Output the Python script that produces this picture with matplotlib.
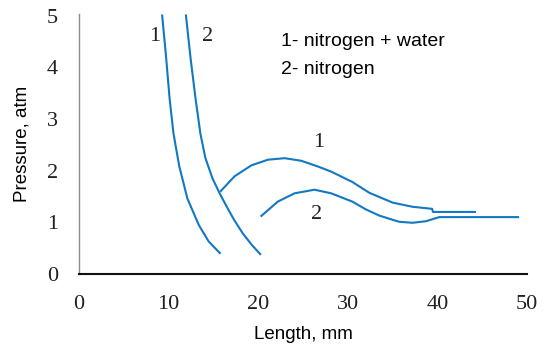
import matplotlib.pyplot as plt

# curve 1 (nitrogen + water), drop branch and hump branch
drop1_x = [9.28, 9.74, 10.11, 10.55, 11.19, 12.1, 13.37, 14.47, 15.8]
drop1_y = [5.02, 4.17, 3.41, 2.72, 2.09, 1.46, 0.95, 0.63, 0.39]
hump1_x = [15.75, 17.37, 19.23, 21.08, 22.94, 24.8, 26.65, 28.14, 30.5, 32.4,
           35.0, 37.2, 39.4, 39.5, 44.3]
hump1_y = [1.59, 1.89, 2.10, 2.21, 2.24, 2.19, 2.08, 1.98, 1.78, 1.57,
           1.38, 1.30, 1.26, 1.20, 1.20]

# curve 2 (nitrogen)
drop2_x = [11.93, 12.46, 13.0, 13.55, 14.1, 14.9, 15.7, 16.5, 17.3, 18.3, 19.3, 20.3]
drop2_y = [5.02, 4.17, 3.41, 2.72, 2.25, 1.85, 1.56, 1.30, 1.05, 0.78, 0.56, 0.37]
hump2_x = [20.27, 22.19, 24.05, 26.28, 28.14, 30.5, 32.0, 33.5, 35.7, 37.2,
           38.7, 40.2, 49.1]
hump2_y = [1.11, 1.40, 1.56, 1.63, 1.56, 1.40, 1.25, 1.13, 1.01, 0.99,
           1.02, 1.10, 1.10]

x_ticks = [0, 10, 20, 30, 40, 50]
y_ticks = [0, 1, 2, 3, 4, 5]

BLUE = "#1178c2"
INK = "#231f20"
SERIF = "Liberation Serif"
SANS = "Liberation Sans"

fig = plt.figure(figsize=(5.44, 3.49), dpi=100)
ax = fig.add_axes([0.145, 0.215, 0.824, 0.745])

for xs, ys in [(drop1_x, drop1_y), (hump1_x, hump1_y), (drop2_x, drop2_y), (hump2_x, hump2_y)]:
    ax.plot(xs, ys, color=BLUE, lw=1.5, solid_capstyle="butt", solid_joinstyle="round")

ax.set_xlim(0, 50)
ax.set_ylim(0, 5.03)
ax.set_xticks(x_ticks)
ax.set_yticks(y_ticks)
ax.set_xticklabels([str(v) for v in x_ticks], family=SERIF, fontsize=16, color=INK)
ax.set_yticklabels([str(v) for v in y_ticks], family=SERIF, fontsize=16, color=INK)
ax.tick_params(axis="y", length=0, pad=15)
ax.tick_params(axis="x", length=0, pad=15)

for s in ["top", "right"]:
    ax.spines[s].set_visible(False)
ax.spines["left"].set_color("#8c8c8c")
ax.spines["left"].set_linewidth(1.0)
ax.spines["bottom"].set_color("#111111")
ax.spines["bottom"].set_linewidth(1.5)

ax.set_xlabel("Length, mm", family=SANS, fontsize=13.5, labelpad=9)
ax.set_ylabel("Pressure, atm", family=SANS, fontsize=13.5, labelpad=12)

# curve labels
ax.text(8.5, 4.6, "1", family=SERIF, fontsize=16, ha="center", va="center", color=INK)
ax.text(14.3, 4.6, "2", family=SERIF, fontsize=16, ha="center", va="center", color=INK)
ax.text(26.8, 2.54, "1", family=SERIF, fontsize=16, ha="center", va="center", color=INK)
ax.text(26.5, 1.15, "2", family=SERIF, fontsize=16, ha="center", va="center", color=INK)

ax.text(22.6, 4.49, "1- nitrogen + water", family=SANS, fontsize=14, va="center")
ax.text(22.6, 3.96, "2- nitrogen", family=SANS, fontsize=14, va="center")

fig.savefig("out.png", dpi=100)
